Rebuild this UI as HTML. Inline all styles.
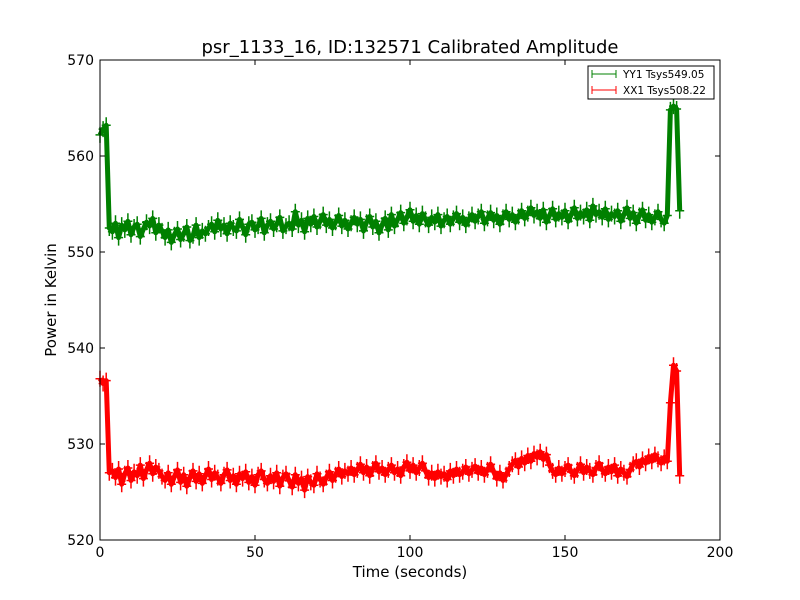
<!DOCTYPE html>
<html><head><meta charset="utf-8"><style>
body{margin:0;background:#fff;}
svg{display:block;font-family:"DejaVu Sans","Liberation Sans",sans-serif;}
</style></head><body>
<svg id="chart" width="800" height="600" viewBox="0 0 800 600">
<rect x="0" y="0" width="800" height="600" fill="#fff"/>
<text x="410" y="53" text-anchor="middle" font-size="18">psr_1133_16, ID:132571 Calibrated Amplitude</text>
<g id="plot"></g>
<rect x="100" y="60" width="620" height="480" fill="none" stroke="#000" stroke-width="1"/>
<g id="axes"></g>
<text x="410" y="577" text-anchor="middle" font-size="15">Time (seconds)</text>
<text x="56" y="300" text-anchor="middle" font-size="15" transform="rotate(-90 56 300)">Power in Kelvin</text>
<g>
<rect x="588" y="66" width="126" height="33" fill="#fff" stroke="#000" stroke-width="1"/>
<g>
<line x1="592" y1="74" x2="616" y2="74" stroke="green"/><line x1="592" y1="70" x2="592" y2="78" stroke="green"/><line x1="616" y1="70" x2="616" y2="78" stroke="green"/>
<text x="623" y="78" font-size="10.5">YY1 Tsys549.05</text></g>
<g>
<line x1="592" y1="90" x2="616" y2="90" stroke="red"/><line x1="592" y1="86" x2="592" y2="94" stroke="red"/><line x1="616" y1="86" x2="616" y2="94" stroke="red"/>
<text x="623" y="94" font-size="10.5">XX1 Tsys508.22</text></g>
</g>
</svg>
<script>
const xTicks=[0,50,100,150,200];
const yTicks=[520,530,540,550,560,570];
const yy1=[562.2,562.8,563.2,552.5,
552.1,553.0,551.5,552.8,552.3,553.2,551.8,552.6,552.9,551.6,552.4,553.1,552.7,553.5,552.0,552.8,552.2,
551.5,552.3,551.0,551.8,552.4,551.3,551.9,552.6,551.2,551.7,552.8,551.5,552.2,551.9,552.5,
552.9,552.1,553.3,552.4,552.8,551.9,553.0,552.5,552.2,553.4,552.6,551.8,552.9,553.1,552.3,552.7,553.5,552.0,552.8,553.2,552.4,552.9,553.6,552.2,552.7,
553.0,552.4,554.2,552.8,553.3,552.1,553.5,552.9,553.7,552.6,553.2,553.9,552.8,553.4,552.5,553.1,553.8,552.7,553.3,552.4,553.0,553.6,552.9,553.4,552.2,553.1,553.7,552.6,553.2,552.0,552.8,553.5,552.3,553.9,552.7,553.4,554.1,553.0,553.6,554.4,
553.2,553.8,552.9,554.0,553.4,552.8,553.6,553.1,553.9,552.7,553.3,553.7,552.9,553.5,554.0,553.1,553.6,552.8,553.4,553.9,553.2,553.7,554.2,553.0,553.5,554.1,553.3,553.8,552.9,553.6,554.2,553.4,553.9,553.1,553.7,554.3,553.5,554.0,554.6,553.8,
554.2,553.5,554.4,553.1,553.8,554.5,553.4,554.0,553.6,554.3,553.2,553.9,554.6,553.5,554.1,553.7,554.4,553.3,554.8,553.9,554.2,553.6,554.5,553.4,554.0,553.7,554.3,553.2,553.9,554.6,553.5,554.1,553.0,553.8,554.4,553.3,553.9,553.1,553.6,554.2,553.4,553.0,553.8,
564.8,565.2,564.9,554.3];
const xx1=[536.8,536.3,536.6,527.0,
527.2,526.5,527.4,525.8,526.9,527.5,526.2,527.1,526.7,527.8,526.4,527.3,528.0,526.9,527.6,527.2,526.6,
526.2,527.0,525.8,526.6,527.3,526.0,526.8,525.6,526.5,527.2,526.1,526.9,525.9,526.7,527.4,
526.3,527.0,526.5,525.9,526.8,527.3,526.2,526.7,525.8,526.9,526.4,527.1,526.0,526.6,525.7,526.8,527.2,526.3,525.9,526.7,526.1,527.0,525.6,526.5,526.9,
526.2,525.5,526.8,525.9,526.4,525.2,526.6,526.0,525.7,526.9,526.3,525.8,526.5,527.1,526.2,526.8,527.4,526.6,527.2,526.9,527.5,526.8,527.3,527.9,527.0,527.6,526.7,527.4,528.0,527.1,527.5,526.8,527.3,527.8,527.0,527.4,526.7,527.6,528.1,527.2,
527.8,527.0,527.5,528.0,527.2,526.5,527.0,526.4,527.1,526.6,526.9,526.3,527.2,526.7,527.4,526.8,527.1,527.6,526.9,527.3,527.7,527.0,527.5,526.8,527.3,527.9,527.1,526.4,527.0,526.2,526.8,527.4,527.9,528.3,527.6,528.5,528.0,528.8,528.2,529.0,
528.6,529.2,528.4,528.9,527.8,527.2,526.8,527.5,526.9,527.4,527.8,527.1,526.7,527.3,527.9,527.0,527.6,527.2,526.8,527.5,528.0,527.3,526.9,527.6,527.1,527.8,526.7,527.4,527.0,526.6,527.3,527.9,528.2,527.6,528.4,528.0,528.7,528.2,528.9,528.4,528.0,528.6,528.2,
534.3,538.2,537.6,526.7];
const sx=v=>100+(v-0)/(200-0)*620;
const sy=v=>540-(v-520)/(570-520)*480;
const NS="http://www.w3.org/2000/svg";
const plot=document.getElementById('plot'), axes=document.getElementById('axes');
function drawSeries(vals,color,name){
  const g=document.createElementNS(NS,'g');
  
  
  let d='';
  vals.forEach((v,i)=>{d+=(i?'L':'M')+sx(i).toFixed(1)+','+sy(v).toFixed(1);});
  const p=document.createElementNS(NS,'path');
  
  
  p.setAttribute('d',d);p.setAttribute('fill','none');p.setAttribute('stroke',color);p.setAttribute('stroke-width','5');p.setAttribute('stroke-linejoin','round');
  g.appendChild(p);
  const p2=document.createElementNS(NS,'path');
  
  
  p2.setAttribute('d',d);p2.setAttribute('fill','none');p2.setAttribute('stroke',color);p2.setAttribute('stroke-width','1.5');
  g.appendChild(p2);
  let m='';
  vals.forEach((v,i)=>{const x=sx(i),y=sy(v);m+=`M${(x-4.5).toFixed(1)},${y.toFixed(1)}h9M${x.toFixed(1)},${(y-8).toFixed(1)}v16`;});
  const mk=document.createElementNS(NS,'path');
  
  
  mk.setAttribute('d',m);mk.setAttribute('stroke',color);mk.setAttribute('stroke-width','1.5');
  g.appendChild(mk);
  plot.appendChild(g);
}
drawSeries(yy1,'green','series-yy1');
drawSeries(xx1,'red','series-xx1');
xTicks.forEach(t=>{
  const x=sx(t);
  const l=document.createElementNS(NS,'path');
  
  
  l.setAttribute('d',`M${x},540v-5M${x},60v5`);l.setAttribute('stroke','#000');
  axes.appendChild(l);
  const tx=document.createElementNS(NS,'text');
  
  
  tx.setAttribute('x',x);tx.setAttribute('y',557);tx.setAttribute('text-anchor','middle');tx.setAttribute('font-size','14');
  tx.textContent=t;axes.appendChild(tx);
});
yTicks.forEach(t=>{
  const y=sy(t);
  const l=document.createElementNS(NS,'path');
  
  
  l.setAttribute('d',`M100,${y}h5M720,${y}h-5`);l.setAttribute('stroke','#000');
  axes.appendChild(l);
  const tx=document.createElementNS(NS,'text');
  
  
  tx.setAttribute('x',94);tx.setAttribute('y',y+5);tx.setAttribute('text-anchor','end');tx.setAttribute('font-size','14');
  tx.textContent=t;axes.appendChild(tx);
});
</script>
</body></html>
